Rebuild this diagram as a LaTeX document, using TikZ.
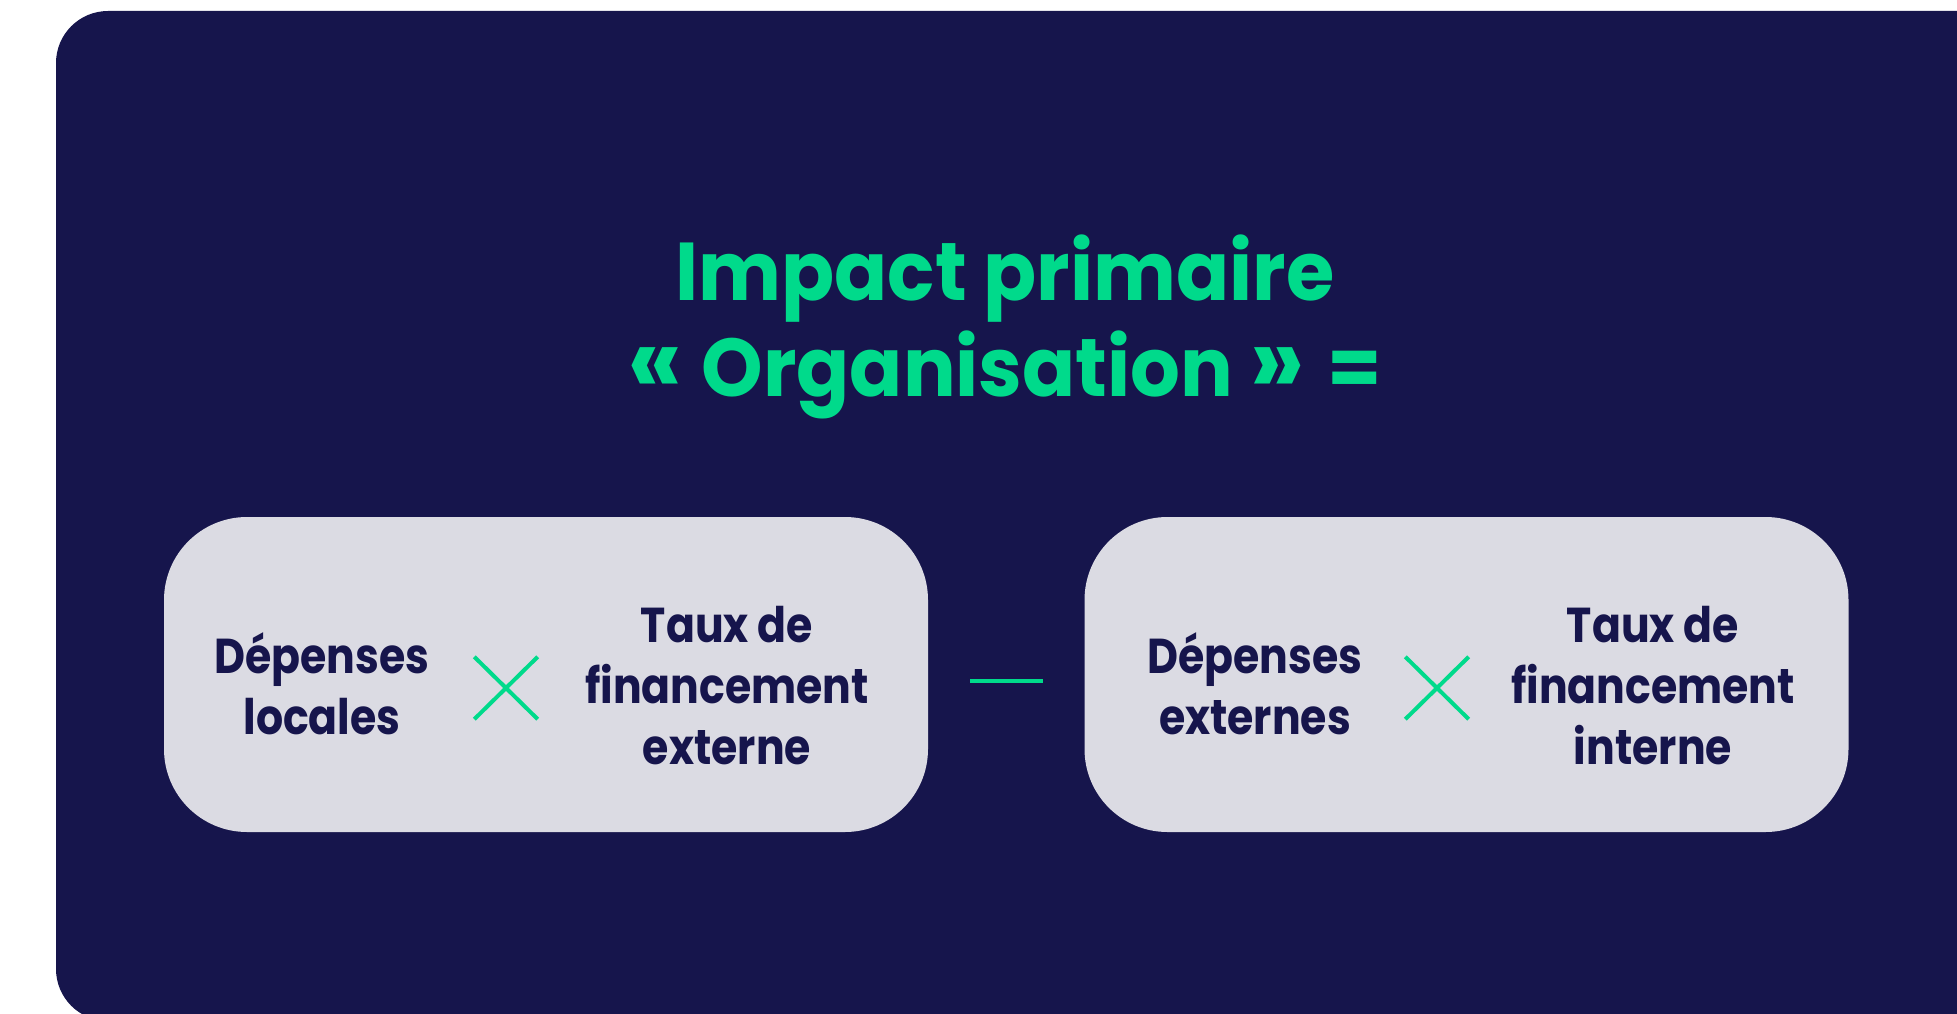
\documentclass[tikz,border=0pt]{standalone}
\usepackage{fontspec}
\setmainfont{Poppins}
\newfontfamily\boxfont{Poppins}[FakeStretch=0.87]
\newfontfamily\headfont{Poppins}[FakeStretch=0.955]
\newcommand{\bigguil}[1]{{\fontsize{104}{90}\selectfont #1}}
\definecolor{navy}{HTML}{16154C}
\definecolor{mint}{HTML}{00DA8B}
\definecolor{boxgray}{HTML}{DBDBE3}
\tikzset{
  panel/.style={fill=boxgray, rounded corners=83pt, minimum width=764pt, minimum height=315pt, inner sep=0pt},
  titletext/.style={text=mint, font=\headfont\fontsize{82}{90}\selectfont\bfseries, anchor=base, inner sep=0pt},
  boxtext/.style={text=navy, font=\boxfont\fontsize{49}{61}\selectfont\bfseries, align=center, inner sep=0pt},
  crossbox/.style={minimum width=63pt, minimum height=62pt, inner sep=0pt},
  crossline/.style={draw=mint, line width=4pt},
  minusline/.style={draw=mint, line width=4pt}
}
\begin{document}
\begin{tikzpicture}[x=1pt,y=-1pt]
\useasboundingbox (0,0) rectangle (1957,1014);
\clip (0,0) rectangle (1957,1014);
\fill[white] (0,0) rectangle (1957,1014);
\fill[navy, rounded corners=52pt] (56,11) rectangle (2030,1021);

\node[titletext] (t1) at (1005,300) {Impact primaire};
\node[titletext] (t2) at (1005,396) {\bigguil{«}\hspace{2pt} Organisation \bigguil{»}\hspace{6pt} =};

\node[panel] (L) at (546,674.5) {};
\node[panel] (R) at (1466.5,674.5) {};

\node[boxtext] (dl) at (322,684) {Dépenses\\locales};
\node[crossbox] (xl) at (506,688) {};
\draw[crossline] (xl.north west) -- (xl.south east);
\draw[crossline] (xl.south west) -- (xl.north east);
\node[boxtext] (tl) at (727,686) {Taux de\\financement\\externe};

\coordinate (m1) at (970,681);
\coordinate (m2) at (1043,681);
\draw[minusline] (m1) -- (m2);

\node[boxtext] (dr) at (1255,684) {Dépenses\\externes};
\node[crossbox] (xr) at (1437,688) {};
\draw[crossline] (xr.north west) -- (xr.south east);
\draw[crossline] (xr.south west) -- (xr.north east);
\node[boxtext] (tr) at (1653,686) {Taux de\\financement\\interne};
\end{tikzpicture}
\end{document}
